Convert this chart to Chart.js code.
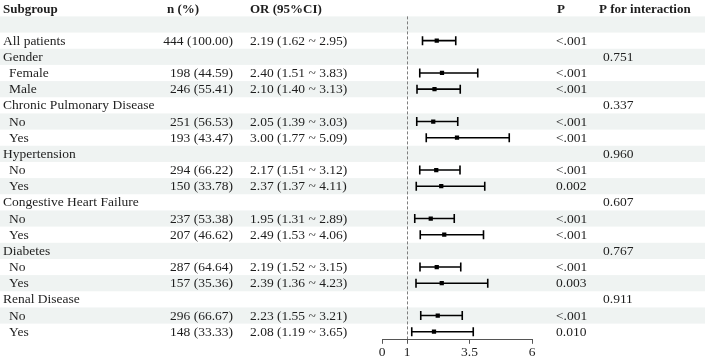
<!DOCTYPE html>
<html>
<head>
<meta charset="utf-8">
<script src="https://cdn.jsdelivr.net/npm/chart.js@4"></script>
<style>
  html, body { margin: 0; padding: 0; background: #fff; }
  #wrap { width: 708px; height: 362px; position: relative; }
</style>
</head>
<body>
<div id="wrap"><canvas id="forest"></canvas></div>
<script>
// table rows (row 0 is the empty shaded row under the header)
const subgroups = ["", "All patients", "Gender", "Female", "Male", "Chronic Pulmonary Disease", "No", "Yes",
  "Hypertension", "No", "Yes", "Congestive Heart Failure", "No", "Yes", "Diabetes", "No", "Yes",
  "Renal Disease", "No", "Yes"];
const nPct = [null, "444 (100.00)", null, "198 (44.59)", "246 (55.41)", null, "251 (56.53)", "193 (43.47)",
  null, "294 (66.22)", "150 (33.78)", null, "237 (53.38)", "207 (46.62)", null, "287 (64.64)", "157 (35.36)",
  null, "296 (66.67)", "148 (33.33)"];
const orVal = [null, 2.19, null, 2.40, 2.10, null, 2.05, 3.00, null, 2.17, 2.37, null, 1.95, 2.49, null, 2.19, 2.39, null, 2.23, 2.08];
const ciLow = [null, 1.62, null, 1.51, 1.40, null, 1.39, 1.77, null, 1.51, 1.37, null, 1.31, 1.53, null, 1.52, 1.36, null, 1.55, 1.19];
const ciHigh = [null, 2.95, null, 3.83, 3.13, null, 3.03, 5.09, null, 3.12, 4.11, null, 2.89, 4.06, null, 3.15, 4.23, null, 3.21, 3.65];
const pVal = [null, "<.001", null, "<.001", "<.001", null, "<.001", "<.001", null, "<.001", "0.002", null,
  "<.001", "<.001", null, "<.001", "0.003", null, "<.001", "0.010"];
const pInter = [null, null, "0.751", null, null, "0.337", null, null, "0.960", null, null, "0.607", null, null,
  "0.767", null, null, "0.911", null, null];
const xTicks = [0, 1, 3.5, 6];

const FONT = '"Liberation Serif", "Times New Roman", serif';
const TXT = "#1e1e1e";

function fmt(v) { return v.toFixed(2); }

const points = [];
for (let i = 0; i < orVal.length; i++) {
  if (orVal[i] !== null) points.push({ x: orVal[i], y: i });
}

// bands + table text + CI whiskers
const tablePlugin = {
  id: "table",
  beforeDraw(chart) {
    const ctx = chart.ctx;
    const y = chart.scales.y;
    const x = chart.scales.x;
    ctx.save();
    ctx.fillStyle = "#fff";
    ctx.fillRect(0, 0, chart.width, chart.height);
    for (let i = 0; i < subgroups.length; i++) {
      if (i % 2 === 0) {
        const top = y.getPixelForValue(i - 0.5);
        const bot = y.getPixelForValue(i + 0.5);
        ctx.fillStyle = "#eff3f2";
        ctx.fillRect(0, top, 705, bot - top);
      }
    }
    // reference line at OR = 1
    ctx.strokeStyle = "#7d7d7d";
    ctx.lineWidth = 1;
    ctx.setLineDash([3, 2]);
    const x1 = Math.round(x.getPixelForValue(1)) + 0.5;
    ctx.beginPath();
    ctx.moveTo(x1, chart.chartArea.top);
    ctx.lineTo(x1, chart.chartArea.bottom);
    ctx.stroke();
    ctx.setLineDash([]);
    ctx.restore();
  },
  afterDatasetsDraw(chart) {
    const ctx = chart.ctx;
    const y = chart.scales.y;
    const x = chart.scales.x;
    ctx.save();
    // whiskers
    ctx.strokeStyle = "#000";
    ctx.lineWidth = 1.6;
    for (let i = 0; i < orVal.length; i++) {
      if (orVal[i] === null) continue;
      const py = y.getPixelForValue(i);
      const a = x.getPixelForValue(ciLow[i]);
      const b = x.getPixelForValue(ciHigh[i]);
      ctx.beginPath();
      ctx.moveTo(a, py); ctx.lineTo(b, py);
      ctx.moveTo(a, py - 4.5); ctx.lineTo(a, py + 4.5);
      ctx.moveTo(b, py - 4.5); ctx.lineTo(b, py + 4.5);
      ctx.stroke();
    }
    // header
    ctx.fillStyle = TXT;
    ctx.textBaseline = "middle";
    ctx.font = "bold 13px " + FONT;
    const hy = 9.5;
    ctx.textAlign = "left";
    ctx.fillText("Subgroup", 3, hy);
    ctx.fillText("n (%)", 167, hy);
    ctx.fillText("OR (95%CI)", 250, hy);
    ctx.fillText("P", 557, hy);
    ctx.fillText("P for interaction", 599, hy);
    // body
    ctx.font = "13.5px " + FONT;
    for (let i = 0; i < subgroups.length; i++) {
      const py = y.getPixelForValue(i) + 0.5;
      const indent = orVal[i] !== null && i > 1 ? 9 : 3;
      ctx.textAlign = "left";
      ctx.fillText(subgroups[i], indent, py);
      if (nPct[i]) {
        ctx.textAlign = "right";
        ctx.fillText(nPct[i], 233, py);
        ctx.textAlign = "left";
        ctx.fillText(fmt(orVal[i]) + " (" + fmt(ciLow[i]) + " ~ " + fmt(ciHigh[i]) + ")", 250, py);
        ctx.fillText(pVal[i], 556, py);
      }
      if (pInter[i]) {
        ctx.textAlign = "left";
        ctx.fillText(pInter[i], 603, py);
      }
    }
    ctx.restore();
  }
};

new Chart(document.getElementById("forest"), {
  type: "scatter",
  data: {
    datasets: [{
      data: points,
      pointStyle: "rect",
      radius: 3,
      backgroundColor: "#000",
      borderColor: "#000",
      borderWidth: 0
    }]
  },
  plugins: [tablePlugin],
  options: {
    responsive: true,
    maintainAspectRatio: false,
    animation: false,
    events: [],
    layout: { padding: { left: 382, right: 176, top: 16.4, bottom: 0 } },
    plugins: { legend: { display: false }, tooltip: { enabled: false } },
    scales: {
      x: {
        type: "linear",
        min: 0,
        max: 6,
        afterBuildTicks(scale) { scale.ticks = xTicks.map(v => ({ value: v })); },
        grid: { drawOnChartArea: false, drawTicks: true, tickLength: 4, color: "#555" },
        border: { display: true, color: "#555", width: 1 },
        ticks: {
          color: TXT,
          padding: 1,
          maxRotation: 0,
          autoSkip: false,
          font: { family: FONT, size: 13.5 },
          callback: v => String(v)
        }
      },
      y: {
        type: "linear",
        display: false,
        reverse: true,
        min: -0.5,
        max: 19.5
      }
    }
  }
});
</script>
</body>
</html>
